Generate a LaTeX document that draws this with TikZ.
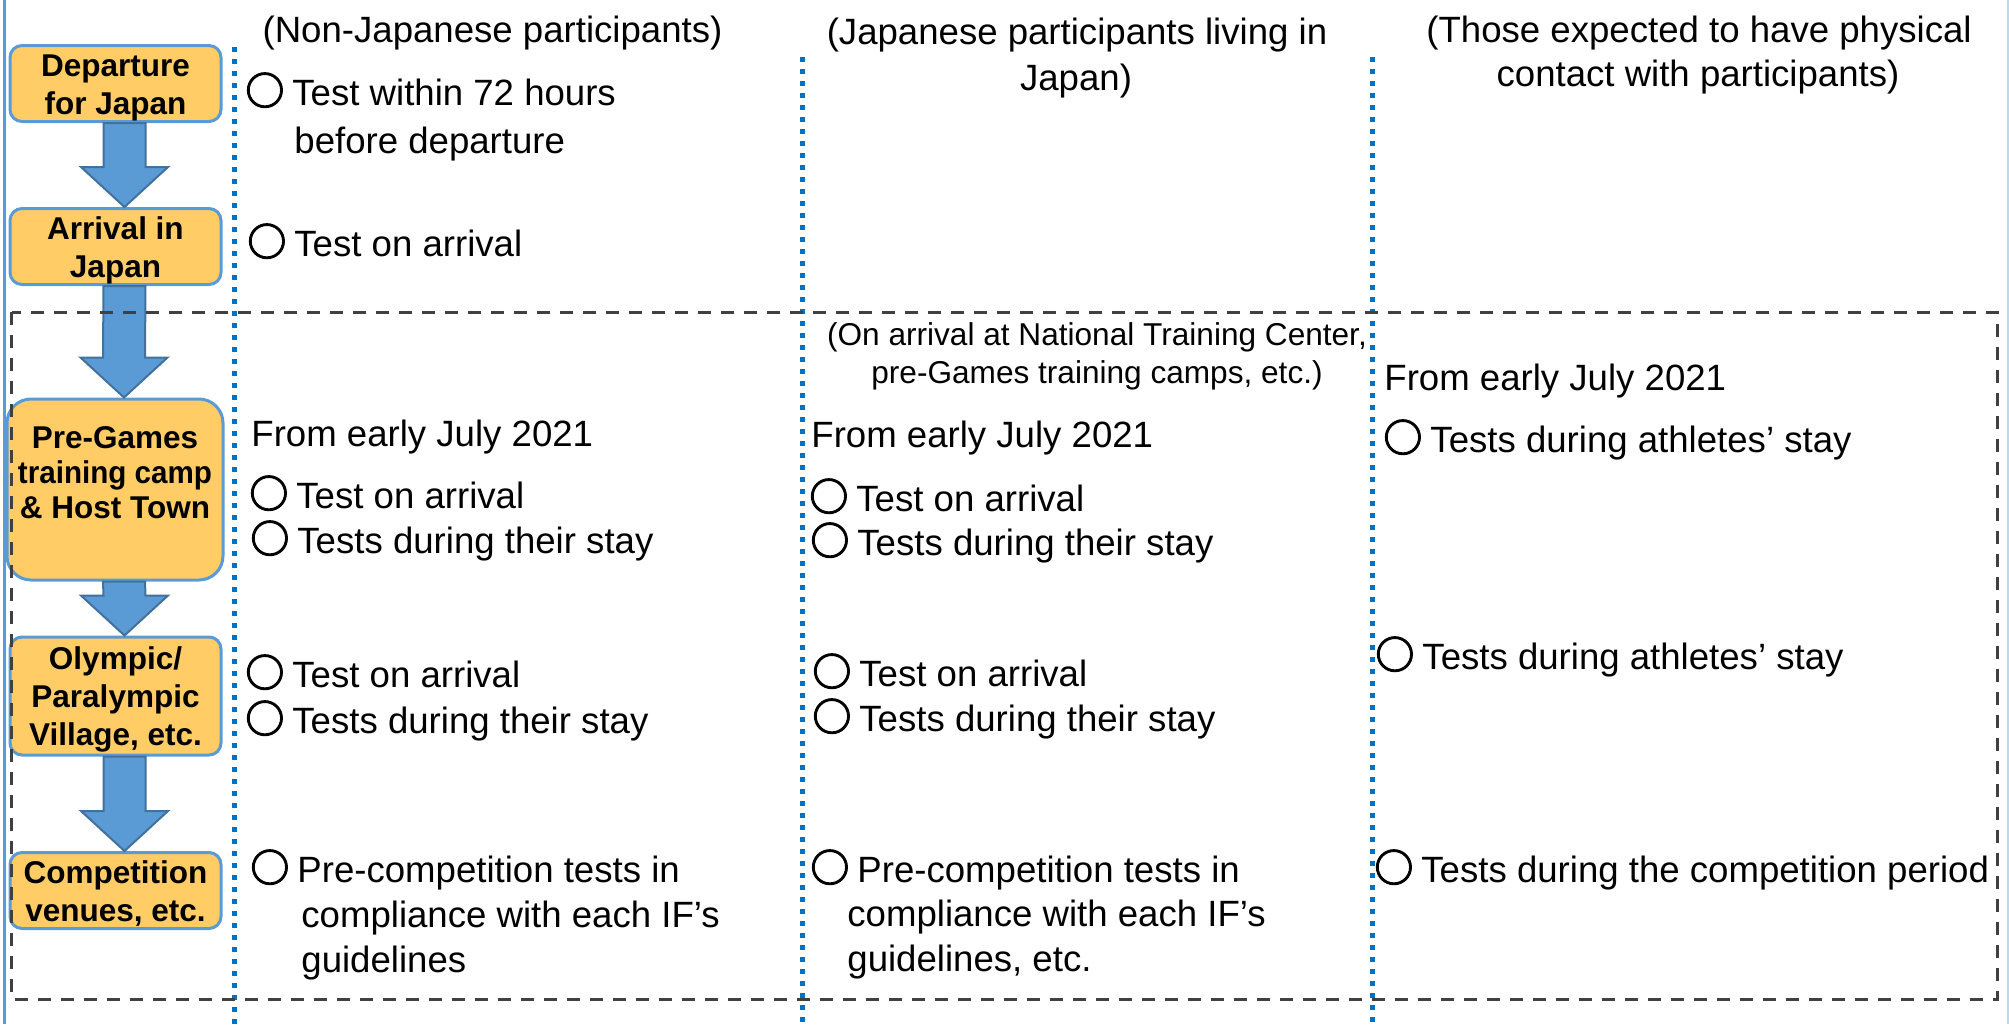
\documentclass[tikz,border=0pt]{standalone}
\usepackage{fontspec}
\setmainfont{Liberation Sans}
\newfontfamily\cjk[FakeBold=2.5]{Noto Sans CJK JP}
\usetikzlibrary{calc}
\definecolor{boxfill}{HTML}{FFCC66}
\definecolor{boxline}{HTML}{5B9BD5}
\definecolor{arrfill}{HTML}{5B9BD5}
\definecolor{arrline}{HTML}{41719C}
\definecolor{sepblue}{HTML}{0070C0}
\definecolor{dashgray}{HTML}{404040}
\definecolor{edgeblue}{HTML}{5B9BD5}
\definecolor{edgelight}{HTML}{BDD7EE}
\newcommand\maru{{\cjk\bfseries\fontsize{19.5pt}{22pt}\selectfont ○}\hspace{4pt}}
\newcommand\stagetext[1]{\raisebox{-2pt}[\height][\depth]{\begin{tabular}{@{}c@{}}#1\end{tabular}}}
\newcommand\flowarrow[2]{%
  \filldraw[flow] ($(#1.south)+(-12,0)$) -- ($(#2.north)+(-12,-40)$) -- ($(#2.north)+(-34.5,-40)$)
   -- ($(#2.north)+(9,0)$) -- ($(#2.north)+(52.5,-40)$) -- ($(#2.north)+(30,-40)$)
   -- ($(#1.south)+(30,0)$) -- cycle;}
\tikzset{
  stage/.style={draw=boxline, line width=1.5pt, fill=boxfill, rounded corners=6pt,
    minimum width=105.5pt, inner sep=0pt,
    font=\bfseries\fontsize{15.75pt}{19pt}\selectfont},
  txt/.style={anchor=base west, inner sep=0pt, font=\fontsize{18.3pt}{22pt}\selectfont},
  hdr/.style={anchor=base, inner sep=0pt, font=\fontsize{18.3pt}{22pt}\selectfont},
  note/.style={anchor=base, inner sep=0pt, font=\fontsize{15.8pt}{19pt}\selectfont},
  flow/.style={fill=arrfill, draw=arrline, line width=1pt, line join=miter},
  colsep/.style={sepblue, line width=2.5pt, dash pattern=on 2.5pt off 3.5pt},
  frame/.style={dashgray, line width=1.5pt, dash pattern=on 6.5pt off 5pt},
}
\begin{document}
\begin{tikzpicture}[x=0.5pt,y=-0.5pt]
\useasboundingbox (0,0) rectangle (2009,1024);
% page edges
\draw[edgeblue, line width=1.5pt] (4,0) -- (4,1024);
\draw[edgelight, line width=0.75pt] (2008,0) -- (2008,1024);

% stage boxes
\node[stage, minimum height=37.5pt] (b1) at (115.5,83.5) {\stagetext{Departure\\for Japan}};
\node[stage, minimum height=37.5pt] (b2) at (115.5,246.5) {\stagetext{Arrival in\\Japan}};
\node[stage, minimum height=90.5pt, minimum width=108pt, rounded corners=12pt,
      font=\bfseries\fontsize{15.75pt}{17.5pt}\selectfont] (b3) at (115,489.5)
      {\stagetext{Pre-Games\\\scalebox{0.94}[1]{training camp}\\\& Host Town\\\mbox{}}};
\node[stage, minimum height=59pt] (b4) at (115.5,696) {\stagetext{Olympic/\\Paralympic\\Village, etc.}};
\node[stage, minimum height=37.5pt] (b5) at (115.5,890.5) {\stagetext{Competition\\venues, etc.}};

% arrows
\flowarrow{b1}{b2}
\flowarrow{b2}{b3}
\flowarrow{b3}{b4}
\flowarrow{b4}{b5}

% column separators
\draw[colsep] (234,47) -- (234,1024);
\draw[colsep] (802,57) -- (802,1024);
\draw[colsep] (1372,57) -- (1372,1024);

% dashed frame
\draw[frame] (11.7,312) rectangle (1997.5,999);

% headers
\node[hdr] (h1) at (492.5,42) {(Non-Japanese participants)};
\node[hdr] (h2a) at (1077,44) {(Japanese participants living in};
\node[hdr] (h2b) at (1076,90) {Japan)};
\node[hdr] (h3a) at (1699,42) {(Those expected to have physical};
\node[hdr] (h3b) at (1698,86) {contact with participants)};

% column 1
\node[txt] (c1a) at (245,105) {\maru Test within 72 hours};
\node[txt] (c1b) at (294,153.5) {before departure};
\node[txt] (c1c) at (247,256) {\maru Test on arrival};
\node[txt] (c1d) at (251,446) {From early July 2021};
\node[txt] (c1e) at (249,508) {\maru Test on arrival};
\node[txt] (c1f) at (250,553) {\maru Tests during their stay};
\node[txt] (c1g) at (245,687) {\maru Test on arrival};
\node[txt] (c1h) at (245,733) {\maru Tests during their stay};
\node[txt] (c1i) at (250,882) {\maru Pre-competition tests in};
\node[txt] (c1j) at (301,927) {compliance with each IF’s};
\node[txt] (c1k) at (301,972) {guidelines};

% column 2
\node[note] (n1) at (1097,345) {(On arrival at National Training Center,};
\node[note] (n2) at (1097,383) {pre-Games training camps, etc.)};
\node[txt] (c2a) at (811,447) {From early July 2021};
\node[txt] (c2b) at (809,511) {\maru Test on arrival};
\node[txt] (c2c) at (810,555) {\maru Tests during their stay};
\node[txt] (c2d) at (812,686) {\maru Test on arrival};
\node[txt] (c2e) at (812,731) {\maru Tests during their stay};
\node[txt] (c2f) at (810,882) {\maru Pre-competition tests in};
\node[txt] (c2g) at (847,926) {compliance with each IF’s};
\node[txt] (c2h) at (847,971) {guidelines, etc.};

% column 3
\node[txt] (c3a) at (1384,390.5) {From early July 2021};
\node[txt] (c3b) at (1383,452) {\maru Tests during athletes’ stay};
\node[txt] (c3c) at (1375,669) {\maru Tests during athletes’ stay};
\node[txt] (c3d) at (1374,882) {\maru Tests during the competition period};
\end{tikzpicture}
\end{document}
